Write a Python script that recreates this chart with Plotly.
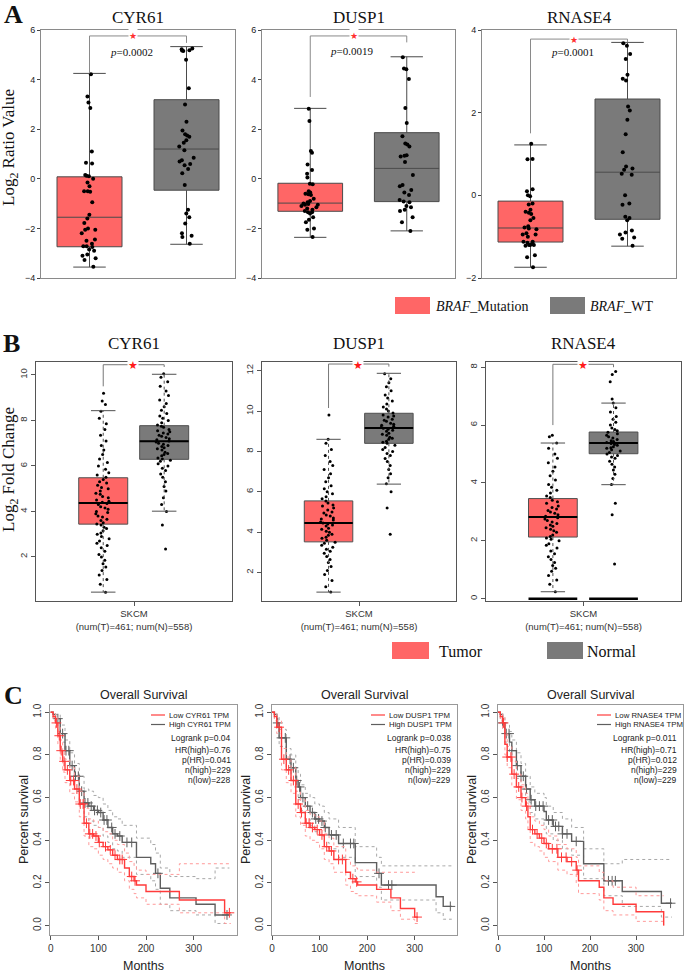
import numpy as np
import plotly.graph_objects as go

# ---------------- data ----------------
genes = ["CYR61", "DUSP1", "RNASE4"]

# Panel A: BRAF mutation vs WT (log2 ratio), box statistics
a_mut_q1 = [-2.74, -1.31, -1.13]
a_mut_med = [-1.55, -0.98, -0.79]
a_mut_q3 = [0.08, -0.18, -0.14]
a_mut_lo = [-3.56, -2.36, -1.74]
a_mut_hi = [4.25, 2.84, 1.22]
a_wt_q1 = [-0.46, -0.92, -0.58]
a_wt_med = [1.2, 0.42, 0.56]
a_wt_q3 = [3.19, 1.86, 2.33]
a_wt_lo = [-2.64, -2.1, -1.23]
a_wt_hi = [5.33, 4.92, 3.7]
a_pvals = ["0.0002", "0.0019", "0.0001"]

a_mut_cyr61 = [4.22, 3.32, 3.08, 2.85, 1.1, 0.65, 0.62, 0.15, 0.12, 0.1, 0.0, -0.15, -0.3,
               -0.5, -0.52, -0.5, -0.95, -1.45, -1.6, -1.78, -2.0, -2.05, -2.05, -2.2, -2.45,
               -2.5, -2.62, -2.72, -2.75, -2.72, -2.85, -2.9, -3.05, -3.1, -3.2, -3.27, -3.55]
a_wt_cyr61 = [5.25, 5.22, 5.18, 5.15, 5.17, 4.8, 3.65, 3.0, 2.3, 1.95, 1.8, 1.75, 1.7, 1.55,
              1.45, 1.3, 1.15, 0.85, 0.75, 0.7, 0.6, 0.55, 0.4, 0.22, -0.25, -1.25, -1.4,
              -1.55, -1.8, -2.2, -2.3, -2.35, -2.62]
a_mut_dusp1 = [2.82, 2.33, 1.12, 1.05, 0.58, 0.35, 0.2, 0.05, -0.2, -0.22, -0.5, -0.55, -0.6,
               -0.62, -0.65, -0.8, -0.9, -0.95, -1.0, -1.02, -1.05, -1.05, -1.1, -1.15, -1.2,
               -1.25, -1.3, -1.35, -1.35, -1.4, -1.55, -1.65, -1.75, -2.0, -2.05, -2.35]
a_wt_dusp1 = [4.9, 4.45, 4.42, 4.02, 2.85, 2.25, 1.72, 1.42, 1.38, 1.3, 0.95, 0.93, 0.9, 0.68,
              0.15, -0.25, -0.3, -0.45, -0.55, -0.65, -0.85, -0.92, -0.95, -1.1, -1.15,
              -1.25, -1.3, -1.55, -1.75, -2.1]
a_mut_rnase4 = [1.25, 0.88, 0.87, 0.15, 0.1, 0.0, -0.02, -0.2, -0.22, -0.35, -0.4, -0.42,
                -0.45, -0.55, -0.6, -0.75, -0.78, -0.8, -0.82, -0.92, -0.95, -0.95, -1.0,
                -1.12, -1.12, -1.15, -1.18, -1.2, -1.2, -1.2, -1.22, -1.45, -1.5, -1.74]
a_wt_rnase4 = [3.68, 3.62, 3.42, 3.3, 2.92, 2.82, 2.78, 2.15, 2.05, 1.83, 1.48, 1.04, 0.7,
               0.65, 0.62, 0.52, 0.5, 0.0, -0.2, -0.23, -0.52, -0.55, -0.6, -0.85, -0.9,
               -0.95, -1.02, -1.05, -1.22]

# Panel B: GEPIA tumor vs normal (log2 fold change)
b_tum_q1 = [3.44, 3.52, 2.13]
b_tum_med = [4.37, 4.45, 2.82]
b_tum_q3 = [5.48, 5.55, 3.46]
b_tum_lo = [0.45, 1.03, 0.24]
b_tum_hi = [8.43, 8.6, 5.38]
b_nor_q1 = [6.29, 8.4, 5.01]
b_nor_med = [7.09, 9.16, 5.38]
b_nor_q3 = [7.77, 9.89, 5.76]
b_nor_lo = [4.01, 6.38, 3.94]
b_nor_hi = [10.03, 11.87, 6.76]
b_xlabel = "SKCM<br>(num(T)=461; num(N)=558)"
b_zero_level = 0.0

b_tum_cyr61 = [0.45, 0.8, 1.0, 1.2, 1.4, 1.55, 1.7, 1.85, 2.0, 2.1, 2.25, 2.4, 2.5, 2.6, 2.7,
               2.8, 2.9, 3.0, 3.05, 3.15, 3.25, 3.3, 3.4, 3.45, 3.5, 3.6, 3.65, 3.75, 3.8, 3.9,
               3.95, 4.0, 4.1, 4.15, 4.2, 4.3, 4.35, 4.4, 4.45, 4.5, 4.6, 4.65, 4.75, 4.8, 4.9,
               5.0, 5.05, 5.15, 5.25, 5.3, 5.4, 5.5, 5.6, 5.7, 5.85, 6.0, 6.15, 6.3, 6.5, 6.7,
               6.9, 7.1, 7.35, 7.6, 7.85, 8.1, 8.4, 8.7, 8.85, 9.2]
b_nor_cyr61 = [2.35, 3.4, 4.0, 4.3, 4.6, 4.9, 5.1, 5.3, 5.5, 5.65, 5.8, 5.9, 6.0, 6.1, 6.2,
               6.25, 6.3, 6.35, 6.45, 6.5, 6.55, 6.6, 6.7, 6.75, 6.8, 6.85, 6.9, 6.95, 7.0,
               7.05, 7.1, 7.15, 7.2, 7.25, 7.3, 7.35, 7.4, 7.45, 7.5, 7.55, 7.6, 7.7, 7.75,
               7.8, 7.9, 8.0, 8.1, 8.2, 8.3, 8.45, 8.6, 8.75, 8.9, 9.1, 9.3, 9.5, 9.7, 9.9, 10.05]
b_tum_dusp1 = [1.03, 1.3, 1.6, 1.9, 2.1, 2.3, 2.5, 2.65, 2.8, 2.95, 3.05, 3.15, 3.25, 3.35,
               3.45, 3.5, 3.6, 3.7, 3.75, 3.85, 3.9, 4.0, 4.05, 4.15, 4.2, 4.3, 4.35, 4.4,
               4.45, 4.5, 4.6, 4.65, 4.7, 4.8, 4.85, 4.95, 5.0, 5.1, 5.2, 5.3, 5.35, 5.45,
               5.55, 5.65, 5.75, 5.9, 6.0, 6.15, 6.3, 6.5, 6.7, 6.9, 7.1, 7.3, 7.5, 7.8, 8.1,
               8.4, 8.6, 9.8]
b_nor_dusp1 = [3.9, 5.2, 6.0, 6.4, 6.7, 6.9, 7.1, 7.3, 7.5, 7.65, 7.8, 7.9, 8.0, 8.1, 8.2,
               8.3, 8.4, 8.45, 8.5, 8.6, 8.65, 8.7, 8.8, 8.85, 8.9, 9.0, 9.05, 9.1, 9.15, 9.2,
               9.25, 9.3, 9.35, 9.4, 9.5, 9.55, 9.6, 9.7, 9.75, 9.8, 9.9, 10.0, 10.1, 10.2,
               10.35, 10.5, 10.65, 10.8, 11.0, 11.2, 11.4, 11.6, 11.85]
b_tum_rnase4 = [0.24, 0.5, 0.65, 0.8, 0.95, 1.05, 1.15, 1.25, 1.35, 1.45, 1.55, 1.65, 1.75,
                1.85, 1.9, 2.0, 2.05, 2.1, 2.15, 2.2, 2.3, 2.35, 2.4, 2.45, 2.5, 2.55, 2.6,
                2.65, 2.7, 2.75, 2.8, 2.85, 2.9, 2.95, 3.0, 3.05, 3.1, 3.15, 3.2, 3.3, 3.35,
                3.4, 3.5, 3.55, 3.65, 3.75, 3.85, 3.95, 4.1, 4.25, 4.4, 4.55, 4.7, 4.85, 5.0,
                5.2, 5.38, 5.6, 5.65]
b_nor_rnase4 = [1.2, 2.9, 3.3, 3.95, 4.15, 4.3, 4.45, 4.55, 4.65, 4.75, 4.85, 4.9, 4.95, 5.0,
                5.05, 5.1, 5.15, 5.2, 5.22, 5.25, 5.3, 5.33, 5.36, 5.4, 5.43, 5.46, 5.5, 5.55,
                5.6, 5.65, 5.7, 5.75, 5.8, 5.85, 5.9, 6.0, 6.1, 6.2, 6.3, 6.45, 6.6, 6.76, 6.9,
                7.5, 7.75, 7.85]

# Panel C: Kaplan-Meier overall survival (months, survival), with 95% CI
km_cyr61_low_t = [0, 5, 10, 15, 20, 25, 30, 40, 50, 60, 70, 80, 90, 100, 110, 120, 130, 140,
                  155, 165, 175, 180, 200, 270, 365, 378]
km_cyr61_low_s = [1.0, 0.98, 0.95, 0.89, 0.82, 0.77, 0.73, 0.68, 0.64, 0.57, 0.48, 0.43, 0.42,
                  0.39, 0.37, 0.355, 0.33, 0.31, 0.27, 0.23, 0.21, 0.19, 0.16, 0.12, 0.06, 0.06]
km_cyr61_low_up = [1.0, 1.0, 0.98, 0.93, 0.87, 0.82, 0.78, 0.74, 0.70, 0.63, 0.55, 0.50, 0.49,
                   0.46, 0.44, 0.43, 0.40, 0.38, 0.34, 0.30, 0.28, 0.26, 0.24, 0.29, 0.29, 0.29]
km_cyr61_low_dn = [1.0, 0.96, 0.92, 0.85, 0.77, 0.72, 0.67, 0.62, 0.58, 0.51, 0.42, 0.37, 0.36,
                   0.33, 0.31, 0.29, 0.27, 0.25, 0.21, 0.17, 0.15, 0.13, 0.10, 0.06, 0.01, 0.01]
km_cyr61_low_cens = [12, 18, 22, 28, 35, 42, 48, 55, 62, 68, 75, 82, 88, 95, 102, 115, 125, 135,
                     145, 150, 170, 177, 375]
km_cyr61_high_t = [0, 5, 10, 20, 30, 40, 50, 60, 70, 80, 90, 100, 110, 120, 130, 140, 150, 180,
                   210, 220, 230, 250, 305, 345, 375]
km_cyr61_high_s = [1.0, 0.99, 0.97, 0.9, 0.82, 0.75, 0.70, 0.63, 0.575, 0.56, 0.54, 0.53, 0.495,
                   0.46, 0.43, 0.42, 0.39, 0.32, 0.29, 0.245, 0.175, 0.13, 0.10, 0.05, 0.05]
km_cyr61_high_up = [1.0, 1.0, 0.99, 0.94, 0.87, 0.81, 0.76, 0.70, 0.64, 0.63, 0.61, 0.60, 0.57,
                    0.54, 0.51, 0.50, 0.47, 0.41, 0.38, 0.34, 0.27, 0.23, 0.22, 0.27, 0.27]
km_cyr61_high_dn = [1.0, 0.97, 0.95, 0.86, 0.77, 0.70, 0.64, 0.57, 0.51, 0.49, 0.47, 0.46, 0.42,
                    0.39, 0.36, 0.35, 0.32, 0.24, 0.21, 0.17, 0.10, 0.07, 0.05, 0.01, 0.01]
km_cyr61_high_cens = [15, 25, 32, 38, 45, 52, 58, 65, 72, 78, 85, 92, 98, 105, 112, 118, 128,
                      135, 145, 160, 170, 225, 370]

km_dusp1_low_t = [0, 5, 10, 20, 30, 40, 50, 60, 70, 80, 90, 100, 110, 120, 130, 155, 165, 175,
                  180, 220, 250, 270, 300, 307]
km_dusp1_low_s = [1.0, 0.98, 0.93, 0.78, 0.73, 0.68, 0.57, 0.53, 0.48, 0.46, 0.45, 0.425, 0.37,
                  0.35, 0.31, 0.25, 0.22, 0.205, 0.19, 0.17, 0.13, 0.08, 0.04, 0.04]
km_dusp1_low_up = [1.0, 1.0, 0.96, 0.83, 0.79, 0.74, 0.63, 0.59, 0.54, 0.52, 0.51, 0.49, 0.43,
                   0.41, 0.37, 0.31, 0.28, 0.27, 0.26, 0.25, 0.25, 0.25, 0.25, 0.25]
km_dusp1_low_dn = [1.0, 0.96, 0.90, 0.73, 0.67, 0.62, 0.51, 0.47, 0.42, 0.40, 0.39, 0.36, 0.31,
                   0.29, 0.25, 0.19, 0.16, 0.15, 0.14, 0.11, 0.07, 0.03, 0.01, 0.01]
km_dusp1_low_cens = [15, 25, 35, 45, 55, 62, 72, 78, 85, 95, 105, 115, 125, 140, 148, 170, 178,
                     305]
km_dusp1_high_t = [0, 5, 10, 15, 30, 40, 50, 55, 60, 70, 80, 90, 100, 110, 120, 140, 175, 220,
                   230, 345, 360, 378]
km_dusp1_high_s = [1.0, 0.99, 0.95, 0.88, 0.78, 0.74, 0.68, 0.65, 0.60, 0.56, 0.53, 0.50, 0.49,
                   0.46, 0.425, 0.385, 0.295, 0.245, 0.19, 0.135, 0.09, 0.09]
km_dusp1_high_up = [1.0, 1.0, 0.98, 0.92, 0.83, 0.80, 0.74, 0.71, 0.66, 0.62, 0.60, 0.57, 0.56,
                    0.53, 0.50, 0.46, 0.37, 0.32, 0.28, 0.28, 0.28, 0.28]
km_dusp1_high_dn = [1.0, 0.97, 0.92, 0.84, 0.73, 0.68, 0.62, 0.59, 0.54, 0.50, 0.47, 0.44, 0.42,
                    0.39, 0.36, 0.32, 0.23, 0.18, 0.12, 0.06, 0.03, 0.03]
km_dusp1_high_cens = [12, 20, 28, 38, 45, 52, 58, 65, 75, 85, 92, 98, 105, 112, 125, 135, 150,
                      165, 172, 225, 245, 252, 375]

km_rnase4_low_t = [0, 5, 10, 15, 20, 30, 40, 50, 60, 65, 70, 80, 90, 100, 110, 130, 150, 170,
                   175, 220, 230, 250, 300, 360]
km_rnase4_low_s = [1.0, 0.98, 0.95, 0.85, 0.79, 0.71, 0.65, 0.60, 0.56, 0.51, 0.45, 0.43, 0.41,
                   0.385, 0.36, 0.32, 0.30, 0.26, 0.21, 0.18, 0.13, 0.10, 0.065, 0.0]
km_rnase4_low_up = [1.0, 1.0, 0.98, 0.90, 0.84, 0.77, 0.71, 0.66, 0.62, 0.57, 0.51, 0.49, 0.47,
                    0.45, 0.42, 0.38, 0.36, 0.32, 0.28, 0.25, 0.21, 0.18, 0.14, 0.14]
km_rnase4_low_dn = [1.0, 0.96, 0.92, 0.80, 0.74, 0.65, 0.59, 0.54, 0.50, 0.45, 0.39, 0.37, 0.35,
                    0.32, 0.30, 0.26, 0.24, 0.20, 0.15, 0.12, 0.07, 0.05, 0.02, 0.0]
km_rnase4_low_cens = [12, 20, 28, 35, 45, 52, 62, 75, 85, 95, 105, 118, 128, 138, 148, 160, 172]
km_rnase4_high_t = [0, 5, 10, 15, 25, 30, 40, 50, 60, 70, 80, 100, 105, 120, 140, 160, 186, 230,
                    270, 355, 378]
km_rnase4_high_s = [1.0, 0.99, 0.95, 0.90, 0.86, 0.82, 0.75, 0.70, 0.64, 0.59, 0.56, 0.535,
                    0.495, 0.465, 0.43, 0.395, 0.29, 0.21, 0.16, 0.105, 0.105]
km_rnase4_high_up = [1.0, 1.0, 0.98, 0.94, 0.91, 0.87, 0.81, 0.76, 0.70, 0.65, 0.62, 0.60, 0.56,
                     0.53, 0.50, 0.46, 0.36, 0.29, 0.31, 0.31, 0.31]
km_rnase4_high_dn = [1.0, 0.97, 0.92, 0.86, 0.81, 0.77, 0.69, 0.64, 0.58, 0.53, 0.50, 0.47, 0.43,
                     0.40, 0.36, 0.33, 0.22, 0.14, 0.09, 0.04, 0.04]
km_rnase4_high_cens = [10, 18, 24, 30, 42, 50, 55, 62, 72, 82, 90, 98, 110, 118, 125, 132, 140,
                       150, 170, 240, 248, 255, 375]

c_stats_cyr61 = ["Logrank p=0.04", "HR(high)=0.76", "p(HR)=0.041", "n(high)=229", "n(low)=228"]
c_stats_dusp1 = ["Logrank p=0.038", "HR(high)=0.75", "p(HR)=0.039", "n(high)=229", "n(low)=229"]
c_stats_rnase4 = ["Logrank p=0.011", "HR(high)=0.71", "p(HR)=0.012", "n(high)=229", "n(low)=229"]

# ---------------- styling ----------------
W, H = 685, 975
SERIF = "Liberation Serif, Times New Roman, serif"
SANS = "Liberation Sans, Arial, sans-serif"
NARROW = "Liberation Sans Narrow, Arial Narrow, Liberation Sans, sans-serif"
RED_BOX = "#FF6666"
GREY_BOX = "#7A7A7A"
KM_RED = "#FF3B3B"
KM_GREY = "#5E5E5E"

# frame pixel boxes: (left, right, top, bottom)
frames_a = [(41, 235, 30, 278), (262, 455, 30, 278), (482, 676, 30, 278)]
frames_b = [(36, 232, 362, 601), (262, 456, 362, 601), (486, 681, 362, 601)]
frames_c = [(50, 237, 705, 935), (272, 457, 705, 935), (498, 683, 705, 935)]


def px(x):
    return x / W


def py(y):
    return 1 - y / H


fig = go.Figure()
axes = {}
annotations = []
shapes = []


def suffix(i):
    return "" if i == 1 else str(i)


def make_axes(i, frame, xkw, ykw):
    l, r, t, b = frame
    s = suffix(i)
    axes["xaxis" + s] = dict(domain=[px(l), px(r)], anchor="y" + s, showgrid=False, zeroline=False,
                             showline=True, mirror=True, automargin=False, **xkw)
    axes["yaxis" + s] = dict(domain=[py(b), py(t)], anchor="x" + s, showgrid=False, zeroline=False,
                             showline=True, mirror=True, automargin=False, **ykw)
    return "x" + s, "y" + s


def text(x, y, s, size, family, color="#111", xanchor="center", angle=0, **kw):
    annotations.append(dict(x=px(x), y=py(y), xref="paper", yref="paper", text=s, showarrow=False,
                            xanchor=xanchor, yanchor="middle", textangle=angle,
                            font=dict(size=size, family=family, color=color), **kw))


# ---------------- Panel A ----------------
a_points = [(a_mut_cyr61, a_wt_cyr61), (a_mut_dusp1, a_wt_dusp1), (a_mut_rnase4, a_wt_rnase4)]
a_ranges = [[-4, 6], [-4, 6], [-2, 4]]
a_ticks = [[-4, -2, 0, 2, 4, 6], [-4, -2, 0, 2, 4, 6], [-2, 0, 2, 4]]
a_bracket_top = [5.76, 5.76, 3.78]
a_left_leg = [4.25, 3.3, 1.5]
a_right_leg = [5.48, 5.5, 3.7]
a_p_y = [5.12, 5.17, 3.47]
for g in range(3):
    xr, yr = make_axes(
        g + 1, frames_a[g],
        dict(range=[-0.5, 1.5], showticklabels=False, ticks="", linecolor="#8a8a8a"),
        dict(range=a_ranges[g], tickvals=a_ticks[g], ticks="outside", ticklen=3, tickcolor="#444",
             linecolor="#8a8a8a", tickfont=dict(size=9, family=SANS, color="#222")))
    groups = [
        (0, a_mut_q1[g], a_mut_med[g], a_mut_q3[g], a_mut_lo[g], a_mut_hi[g], a_points[g][0], RED_BOX),
        (1, a_wt_q1[g], a_wt_med[g], a_wt_q3[g], a_wt_lo[g], a_wt_hi[g], a_points[g][1], GREY_BOX),
    ]
    for pos, q1, med, q3, lo, hi, pts, col in groups:
        fig.add_trace(go.Box(x=[pos], q1=[q1], median=[med], q3=[q3], lowerfence=[lo], upperfence=[hi],
                             orientation="v", width=0.67, whiskerwidth=0.5, fillcolor=col,
                             line=dict(color="#4a4a4a", width=1), boxpoints=False,
                             xaxis=xr, yaxis=yr, hoverinfo="skip", showlegend=False))
        fig.add_trace(go.Box(x=[pos] * len(pts), y=pts, orientation="v", width=0.67, boxpoints="all",
                             jitter=0.3, pointpos=0, fillcolor="rgba(0,0,0,0)",
                             line=dict(width=0, color="rgba(0,0,0,0)"),
                             marker=dict(color="black", size=4), xaxis=xr, yaxis=yr,
                             hoverinfo="skip", showlegend=False))
    # significance bracket
    fig.add_trace(go.Scatter(x=[0, 0, 1, 1], y=[a_left_leg[g], a_bracket_top[g], a_bracket_top[g], a_right_leg[g]],
                             mode="lines", line=dict(color="#8a8a8a", width=1), xaxis=xr, yaxis=yr,
                             hoverinfo="skip", showlegend=False))
    annotations.append(dict(x=0.45, y=a_bracket_top[g], xref=xr, yref=yr, text="★", showarrow=False,
                            bgcolor="white", borderpad=0, font=dict(size=9, color="#FF3030")))
    annotations.append(dict(x=0.43, y=a_p_y[g], xref=xr, yref=yr, text="<i>p</i>=" + a_pvals[g],
                            showarrow=False, font=dict(size=11, family=SERIF, color="#111")))
    l, r, t, b = frames_a[g]
    text((l + r) / 2, 17, genes[g], 17, SERIF)

text(13, 14, "<b>A</b>", 26, SERIF)
text(10, 148, "Log<sub>2</sub> Ratio Value", 17, SERIF, angle=-90)
shapes.append(dict(type="rect", xref="paper", yref="paper", x0=px(395), x1=px(430), y0=py(314), y1=py(297),
                   fillcolor=RED_BOX, line=dict(width=0)))
shapes.append(dict(type="rect", xref="paper", yref="paper", x0=px(550), x1=px(585), y0=py(314), y1=py(297),
                   fillcolor=GREY_BOX, line=dict(width=0)))
text(434, 306, "<i>BRAF</i>_Mutation", 14, SERIF, xanchor="left")
text(588, 306, "<i>BRAF</i>_WT", 14, SERIF, xanchor="left")

# ---------------- Panel B ----------------
b_points = [(b_tum_cyr61, b_nor_cyr61), (b_tum_dusp1, b_nor_dusp1), (b_tum_rnase4, b_nor_rnase4)]
b_ranges = [[0.06, 10.57], [0.59, 12.43], [-0.08, 8.18]]
b_ticks = [[2, 4, 6, 8, 10], [2, 4, 6, 8, 10, 12], [0, 2, 4, 6, 8]]
b_bracket_top = [10.45, 12.33, 8.1]
b_left_leg = [9.5, 10.15, 6.0]
b_right_leg = [10.35, 12.2, 8.0]
b_pos = [0.343, 0.654]
BW = 0.25
for g in range(3):
    xr, yr = make_axes(
        g + 4, frames_b[g],
        dict(range=[0, 1], tickvals=[0.5], ticktext=[b_xlabel], ticks="outside", ticklen=4,
             tickcolor="#555", linecolor="#555", tickfont=dict(size=9.5, family=SANS, color="#333")),
        dict(range=b_ranges[g], tickvals=b_ticks[g], ticks="outside", ticklen=4, tickcolor="#555",
             tickangle=-90, linecolor="#555", tickfont=dict(size=9.5, family=SANS, color="#333")))
    groups = [
        (b_pos[0], b_tum_q1[g], b_tum_med[g], b_tum_q3[g], b_tum_lo[g], b_tum_hi[g], b_points[g][0], RED_BOX),
        (b_pos[1], b_nor_q1[g], b_nor_med[g], b_nor_q3[g], b_nor_lo[g], b_nor_hi[g], b_points[g][1], GREY_BOX),
    ]
    for pos, q1, med, q3, lo, hi, pts, col in groups:
        fig.add_trace(go.Box(x=[pos], q1=[q1], median=[med], q3=[q3], lowerfence=[q1], upperfence=[q3],
                             orientation="v", width=BW, whiskerwidth=0, fillcolor=col,
                             line=dict(color="#505050", width=1), boxpoints=False,
                             xaxis=xr, yaxis=yr, hoverinfo="skip", showlegend=False))
        # dotted whiskers and solid caps
        for a, bnd in [(q1, lo), (q3, hi)]:
            fig.add_trace(go.Scatter(x=[pos, pos], y=[a, bnd], mode="lines",
                                     line=dict(color="#505050", width=1, dash="dot"),
                                     xaxis=xr, yaxis=yr, hoverinfo="skip", showlegend=False))
            fig.add_trace(go.Scatter(x=[pos - BW / 4, pos + BW / 4], y=[bnd, bnd], mode="lines",
                                     line=dict(color="#505050", width=1),
                                     xaxis=xr, yaxis=yr, hoverinfo="skip", showlegend=False))
        fig.add_trace(go.Box(x=[pos] * len(pts), y=pts, orientation="v", width=BW, boxpoints="all",
                             jitter=0.35, pointpos=0, fillcolor="rgba(0,0,0,0)",
                             line=dict(width=0, color="rgba(0,0,0,0)"),
                             marker=dict(color="black", size=3), xaxis=xr, yaxis=yr,
                             hoverinfo="skip", showlegend=False))
        fig.add_trace(go.Scatter(x=[pos - BW / 2, pos + BW / 2], y=[med, med], mode="lines",
                                 line=dict(color="black", width=2), xaxis=xr, yaxis=yr,
                                 hoverinfo="skip", showlegend=False))
        if g == 2:
            fig.add_trace(go.Scatter(x=[pos - BW / 2, pos + BW / 2], y=[b_zero_level, b_zero_level],
                                     mode="lines", line=dict(color="black", width=2.5),
                                     xaxis=xr, yaxis=yr, hoverinfo="skip", showlegend=False))
    fig.add_trace(go.Scatter(x=[b_pos[0], b_pos[0], b_pos[1], b_pos[1]],
                             y=[b_left_leg[g], b_bracket_top[g], b_bracket_top[g], b_right_leg[g]],
                             mode="lines", line=dict(color="#777", width=1), xaxis=xr, yaxis=yr,
                             hoverinfo="skip", showlegend=False))
    annotations.append(dict(x=0.497, y=b_bracket_top[g], xref=xr, yref=yr, text="★", showarrow=False,
                            bgcolor="white", borderpad=0, font=dict(size=11, color="#FF1A1A")))
    l, r, t, b = frames_b[g]
    text((l + r) / 2, 343, genes[g], 17, SERIF)

text(11, 343, "<b>B</b>", 26, SERIF)
text(10, 470, "Log<sub>2</sub> Fold Change", 17, SERIF, angle=-90)
shapes.append(dict(type="rect", xref="paper", yref="paper", x0=px(392), x1=px(429), y0=py(659), y1=py(642),
                   fillcolor=RED_BOX, line=dict(width=0)))
shapes.append(dict(type="rect", xref="paper", yref="paper", x0=px(547), x1=px(583), y0=py(659), y1=py(642),
                   fillcolor=GREY_BOX, line=dict(width=0)))
text(437, 651, "Tumor", 16, SERIF, xanchor="left")
text(585, 651, "Normal", 16, SERIF, xanchor="left")

# ---------------- Panel C ----------------
km_sets = [
    (km_cyr61_low_t, km_cyr61_low_s, km_cyr61_low_up, km_cyr61_low_dn, km_cyr61_low_cens,
     km_cyr61_high_t, km_cyr61_high_s, km_cyr61_high_up, km_cyr61_high_dn, km_cyr61_high_cens, c_stats_cyr61),
    (km_dusp1_low_t, km_dusp1_low_s, km_dusp1_low_up, km_dusp1_low_dn, km_dusp1_low_cens,
     km_dusp1_high_t, km_dusp1_high_s, km_dusp1_high_up, km_dusp1_high_dn, km_dusp1_high_cens, c_stats_dusp1),
    (km_rnase4_low_t, km_rnase4_low_s, km_rnase4_low_up, km_rnase4_low_dn, km_rnase4_low_cens,
     km_rnase4_high_t, km_rnase4_high_s, km_rnase4_high_up, km_rnase4_high_dn, km_rnase4_high_cens, c_stats_rnase4),
]
c_xranges = [[-1.5, 391], [0, 389], [0, 402]]


def step_at(t, s, c):
    idx = np.searchsorted(np.asarray(t), np.asarray(c), side="right") - 1
    return np.asarray(s)[idx]


for g in range(3):
    xr, yr = make_axes(
        g + 7, frames_c[g],
        dict(range=c_xranges[g], tickvals=[0, 100, 200, 300], ticks="outside", ticklen=4,
             tickcolor="#555", linecolor="#999", tickfont=dict(size=10, family=NARROW, color="#333")),
        dict(range=[-0.044, 1.034], tickvals=[0, 0.2, 0.4, 0.6, 0.8, 1.0],
             ticktext=["0.0", "0.2", "0.4", "0.6", "0.8", "1.0"], ticks="outside", ticklen=4,
             tickcolor="#555", tickangle=-90, linecolor="#999",
             tickfont=dict(size=10, family=NARROW, color="#333")))
    lt, ls, lu, ld, lc, ht, hs, hu, hd, hc, stats = km_sets[g]
    for t, s, u, d, cens, col, ci_col in [(ht, hs, hu, hd, hc, KM_GREY, "#A8A8A8"),
                                          (lt, ls, lu, ld, lc, KM_RED, "#FF9A9A")]:
        for ci in (u, d):
            fig.add_trace(go.Scatter(x=t, y=ci, mode="lines", line=dict(color=ci_col, width=1, dash="dot",
                                                                      shape="hv"),
                                     xaxis=xr, yaxis=yr, hoverinfo="skip", showlegend=False))
        fig.add_trace(go.Scatter(x=t, y=s, mode="lines", line=dict(color=col, width=1.4, shape="hv"),
                                 xaxis=xr, yaxis=yr, hoverinfo="skip", showlegend=False))
        fig.add_trace(go.Scatter(x=cens, y=step_at(t, s, cens), mode="markers",
                                 marker=dict(symbol="cross-thin", size=7, line=dict(color=col, width=1)),
                                 xaxis=xr, yaxis=yr, hoverinfo="skip", showlegend=False))
    l, r, t0, b = frames_c[g]
    text((l + r) / 2, 695, "Overall Survival", 12.5, NARROW, color="#222")
    text((l + r) / 2, 966, "Months", 12.5, NARROW, color="#222")
    text(l - 26, 820, "Percent survival", 12.5, NARROW, color="#222", angle=-90)
    # legend inside the plot
    for yy, col, lab in [(715, KM_RED, "Low %s TPM" % genes[g]), (724.5, KM_GREY, "High %s TPM" % genes[g])]:
        shapes.append(dict(type="line", xref="paper", yref="paper", x0=px(r - 86), x1=px(r - 72),
                           y0=py(yy), y1=py(yy), line=dict(color=col, width=1.2)))
        text(r - 70, yy, lab, 7.8, NARROW, color="#222", xanchor="left")
    for k, yy in enumerate([738, 749.5, 760, 770, 780]):
        text(r - 4, yy, stats[k], 8.5, NARROW, color="#222", xanchor="right")

text(13, 695, "<b>C</b>", 26, SERIF)

fig.update_layout(
    width=W, height=H, margin=dict(l=0, r=0, t=0, b=0, autoexpand=False),
    paper_bgcolor="white", plot_bgcolor="white", showlegend=False,
    boxmode="overlay", annotations=annotations, shapes=shapes, **axes)

# the default page has an 8px body margin; drop it so the figure sits at the window origin
fig.write_html("out.html", config={"displayModeBar": False},
               post_script="document.body.style.margin='0px';")
